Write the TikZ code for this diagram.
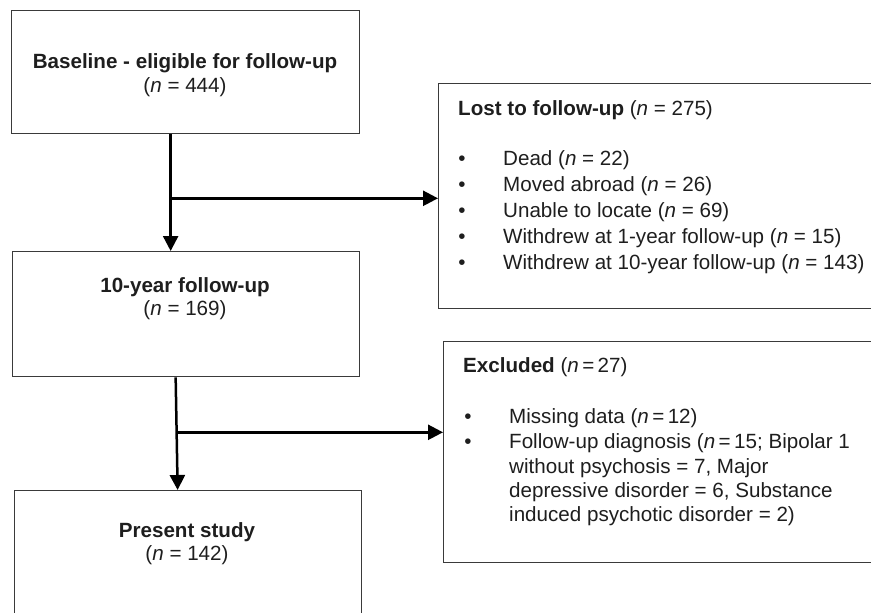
\documentclass[tikz,border=0pt]{standalone}
\usepackage{fontspec}
\setmainfont{Liberation Sans}
\usetikzlibrary{arrows.meta,calc}
\definecolor{boxline}{HTML}{3A3A3A}
\definecolor{ink}{HTML}{1E1E1E}
\begin{document}
\begin{tikzpicture}[x=1pt,y=-1pt,
  box/.style={draw=boxline,line width=1.3pt,rectangle,anchor=north west,inner sep=0pt},
  txt/.style={anchor=base,inner sep=0pt,text=ink,font=\fontsize{20.6}{24}\selectfont},
  ltxt/.style={anchor=base west,inner sep=0pt,text=ink,font=\fontsize{20.6}{24}\selectfont},
  arr/.style={draw=black,line width=2.5pt,-{Triangle[length=15pt,width=15pt]}},
  branch/.style={draw=black,line width=2.5pt}]
\useasboundingbox (0,0) rectangle (871,613);
\clip (0,0) rectangle (871,613);
% boxes
\node[box,minimum width=348pt,minimum height=123pt] (b1) at (11,10) {};
\node[box,minimum width=347pt,minimum height=125pt] (b2) at (12,251) {};
\node[box,minimum width=347pt,minimum height=150pt] (b3) at (14,490) {};
\node[box,minimum width=450pt,minimum height=225pt] (lost) at (438,83) {};
\node[box,minimum width=450pt,minimum height=221pt] (excl) at (443,341) {};
% box texts
\node[txt] (t1a) at (185,68) {\textbf{Baseline - eligible for follow-up}};
\node[txt] (t1b) at (185,92) {(\textit{n} = 444)};
\node[txt] (t2a) at (185,292) {\textbf{10-year follow-up}};
\node[txt] (t2b) at (185,315) {(\textit{n} = 169)};
\node[txt] (t3a) at (187,537) {\textbf{Present study}};
\node[txt] (t3b) at (187,560) {(\textit{n} = 142)};
% lost box text
\node[ltxt] (lh) at (458,115) {\textbf{Lost to follow-up} (\textit{n} = 275)};
\foreach \i/\yy/\t in {1/165/{Dead (\textit{n} = 22)},
                       2/191/{Moved abroad (\textit{n} = 26)},
                       3/217/{Unable to locate (\textit{n} = 69)},
                       4/243/{Withdrew at 1-year follow-up (\textit{n} = 15)},
                       5/269/{Withdrew at 10-year follow-up (\textit{n} = 143)}}{
  \node[txt] (lb\i) at (462,\yy) {•};
  \node[ltxt] (lt\i) at (503,\yy) {\t};
}
% excluded box text
\node[ltxt] (eh) at (463,372) {\textbf{Excluded} (\textit{n}\,=\,27)};
\node[txt] (eb1) at (468,423) {•};
\node[ltxt] (et1) at (509,423) {Missing data (\textit{n}\,=\,12)};
\node[txt] (eb2) at (468,448) {•};
\node[ltxt] (et2) at (509,448) {Follow-up diagnosis (\textit{n}\,=\,15; Bipolar 1};
\node[ltxt] (et3) at (509,473) {without psychosis = 7, Major};
\node[ltxt] (et4) at (509,497) {depressive disorder = 6, Substance};
\node[ltxt] (et5) at (509,521) {induced psychotic disorder = 2)};
% connectors
\coordinate (j1) at ([xshift=-15pt,yshift=-64pt]b1.south);
\draw[arr] ([xshift=-15pt]b1.south) -- ([xshift=-15pt]b1.south |- b2.north);
\draw[arr] (j1) -- (j1 -| lost.west);
\coordinate (j2) at ([xshift=-9.5pt,yshift=-55pt]b2.south);
\draw[arr] ([xshift=-10.5pt]b2.south) -- ([xshift=-8.5pt]b2.south |- b3.north);
\draw[arr] (j2) -- (j2 -| excl.west);
\end{tikzpicture}
\end{document}
